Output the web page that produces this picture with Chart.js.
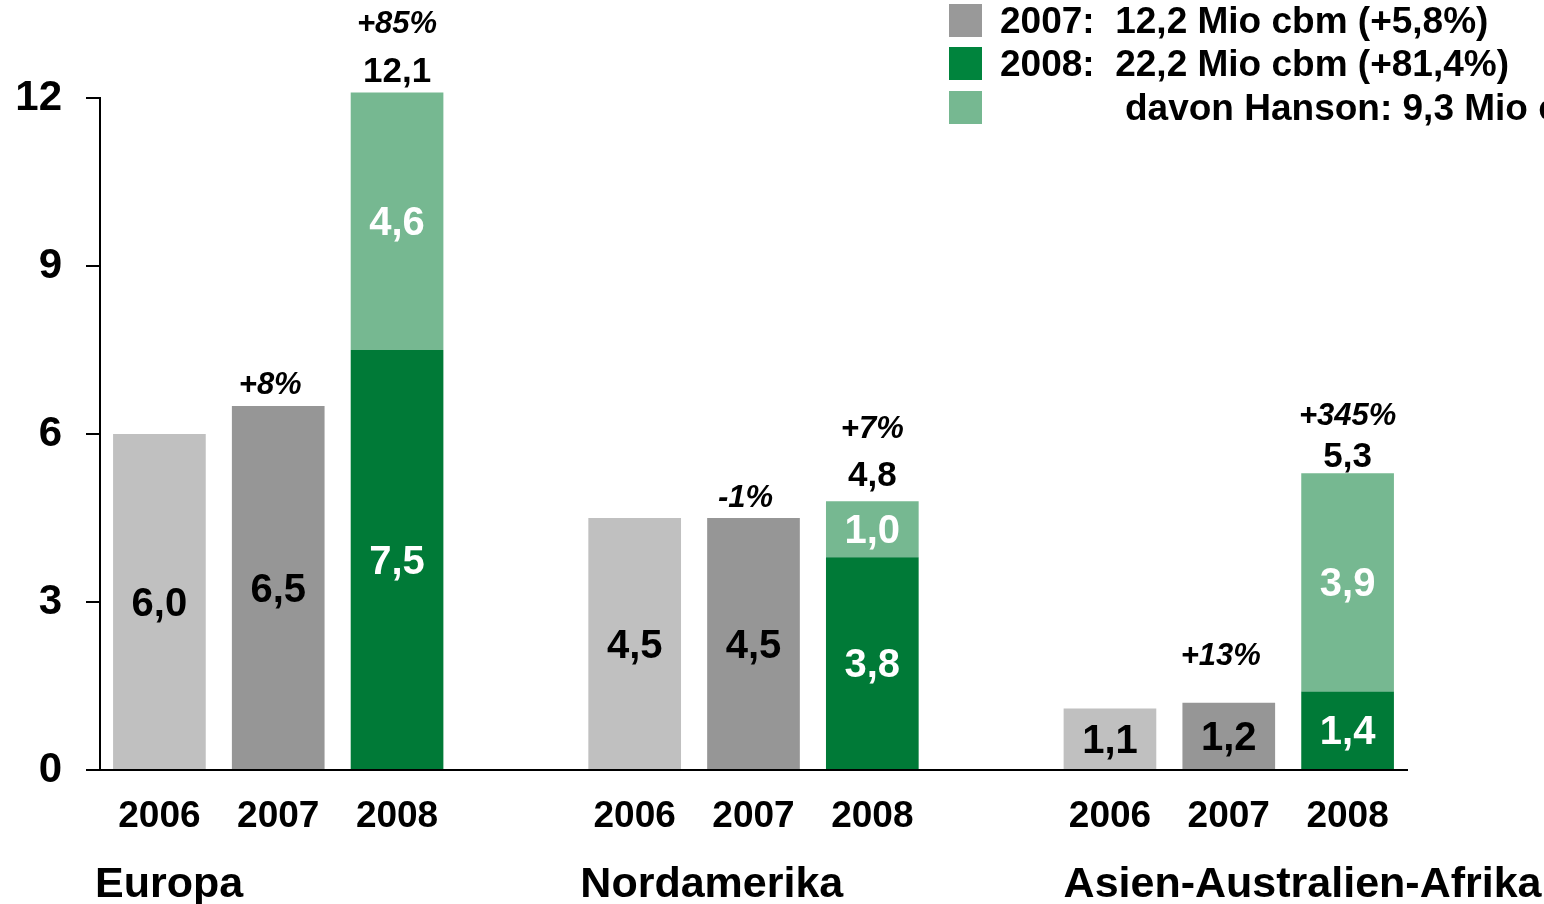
<!DOCTYPE html>
<html>
<head>
<meta charset="utf-8">
<script src="https://cdn.jsdelivr.net/npm/chart.js@4"></script>
<style>
    body { margin: 0; background: #fff; }
    canvas { display: block; }
</style>
</head>
<body>
<canvas id="volumeChart" width="1544" height="904"></canvas>
<script>
// --- Data ---
const years = ['2006', '2007', '2008'];
const regions = ['Europa', 'Nordamerika', 'Asien-Australien-Afrika'];
const europa = [6.0, 6.5, 7.5];
const nordamerika = [4.5, 4.5, 3.8];
const asien = [1.1, 1.2, 1.4];
const hanson2008 = [4.6, 1.0, 3.9];
const growth2007 = ['+8%', '-1%', '+13%'];
const growth2008 = ['+85%', '+7%', '+345%'];
const yTicks = [0, 3, 6, 9, 12];
const legendLabels = ['2007:  12,2 Mio cbm (+5,8%)', '2008:  22,2 Mio cbm (+81,4%)', 'davon Hanson: 9,3 Mio cbm'];

const FONT = '"Liberation Sans", Arial, sans-serif';
const yearColors = ['#c0c0c0', '#969696', '#007a37'];
const hansonColor = '#76b891';
const legendColors = ['#999999', '#00843d', '#76b891'];

// flatten into 11 slots, one empty slot between regions
const labels = [];
const baseValues = [];
const hansonValues = [];
const yearIdx = [];
const regionIdx = [];
[europa, nordamerika, asien].forEach((vals, r) => {
    if (r > 0) {
        labels.push('');
        baseValues.push(null);
        hansonValues.push(null);
        yearIdx.push(-1);
        regionIdx.push(-1);
    }
    vals.forEach((v, y) => {
        labels.push(years[y]);
        baseValues.push(v);
        hansonValues.push(y === 2 ? hanson2008[r] : null);
        yearIdx.push(y);
        regionIdx.push(r);
    });
});

const fmt = v => v.toFixed(1).replace('.', ',');

// --- Labels on and above the bars ---
// gaps above the bar tops, per region (hand placed in the original slide)
const gap2007 = [21, 20, 46];
const gapTotal = [20, 25, 16];
const gap2008 = [68, 72, 57];

const barLabels = {
    id: 'barLabels',
    afterDatasetsDraw(chart) {
        const ctx = chart.ctx;
        const baseMeta = chart.getDatasetMeta(0);
        const topMeta = chart.getDatasetMeta(1);
        ctx.save();
        ctx.textAlign = 'center';
        ctx.textBaseline = 'middle';
        baseMeta.data.forEach((bar, i) => {
            if (baseValues[i] == null) return;
            const y = yearIdx[i];
            const r = regionIdx[i];
            ctx.font = 'bold 40px ' + FONT;
            ctx.fillStyle = y === 2 ? '#fff' : '#000';
            ctx.fillText(fmt(baseValues[i]), bar.x, (bar.y + bar.base) / 2 + 3);

            if (y === 1) {
                ctx.fillStyle = '#000';
                ctx.font = 'italic bold 31px ' + FONT;
                ctx.fillText(growth2007[r], bar.x - 8, bar.y - gap2007[r]);
            }
            if (y === 2) {
                const h = topMeta.data[i];
                ctx.fillStyle = '#fff';
                ctx.font = 'bold 40px ' + FONT;
                ctx.fillText(fmt(hansonValues[i]), h.x, (h.y + h.base) / 2 + 3);

                ctx.fillStyle = '#000';
                ctx.font = 'bold 35px ' + FONT;
                ctx.fillText(fmt(baseValues[i] + hansonValues[i]), h.x, h.y - gapTotal[r]);
                ctx.font = 'italic bold 31px ' + FONT;
                ctx.fillText(growth2008[r], h.x, h.y - gap2008[r]);
            }
        });
        ctx.restore();
    }
};

// --- Region names under the years, and the legend top right ---
const extras = {
    id: 'extras',
    afterDraw(chart) {
        const ctx = chart.ctx;
        const nudge = [-18, -8, 0];
        ctx.save();
        ctx.fillStyle = '#000';
        ctx.textAlign = 'left';
        ctx.textBaseline = 'middle';
        ctx.font = 'bold 43px ' + FONT;
        regions.forEach((name, r) => {
            const first = regionIdx.indexOf(r);
            const bar = chart.getDatasetMeta(0).data[first];
            ctx.fillText(name, bar.x - bar.width / 2 + nudge[r], 885);
        });

        // legend
        const rows = [20.5, 63.5, 107.5];
        ctx.font = 'bold 37px ' + FONT;
        legendLabels.forEach((txt, i) => {
            ctx.fillStyle = legendColors[i];
            ctx.fillRect(949, rows[i] - 16.5, 33, 33);
            ctx.fillStyle = '#000';
            ctx.fillText(txt, i === 2 ? 1125 : 1000, rows[i] + 2);
        });
        ctx.restore();
    }
};

document.addEventListener('DOMContentLoaded', () => {
    const ctx = document.getElementById('volumeChart').getContext('2d');
    new Chart(ctx, {
        type: 'bar',
        data: {
            labels: labels,
            datasets: [{
                label: 'Basis',
                data: baseValues,
                backgroundColor: yearIdx.map(y => yearColors[Math.max(y, 0)]),
                barPercentage: 0.78,
                categoryPercentage: 1,
                clip: false
            }, {
                label: 'Hanson',
                data: hansonValues,
                backgroundColor: hansonColor,
                barPercentage: 0.78,
                categoryPercentage: 1,
                clip: false
            }]
        },
        options: {
            responsive: false,
            animation: false,
            layout: { padding: { top: 98, right: 137, left: 0, bottom: 0 } },
            plugins: {
                legend: { display: false },
                tooltip: { enabled: false }
            },
            scales: {
                x: {
                    stacked: true,
                    grid: { display: false },
                    border: { display: true, color: '#000', width: 2 },
                    ticks: {
                        color: '#000',
                        font: { family: FONT, size: 37, weight: 'bold' },
                        padding: 17,
                        autoSkip: false,
                        maxRotation: 0
                    },
                    afterFit: s => { s.height = 134; }
                },
                y: {
                    stacked: true,
                    min: 0,
                    max: 12,
                    afterBuildTicks: s => { s.ticks = yTicks.map(v => ({ value: v })); },
                    grid: { drawOnChartArea: false, drawTicks: true, tickLength: 14, color: '#000', lineWidth: 2 },
                    border: { display: true, color: '#000', width: 2 },
                    ticks: {
                        color: '#000',
                        font: { family: FONT, size: 42, weight: 'bold' },
                        padding: 24
                    },
                    afterFit: s => { s.width = 100; }
                }
            }
        },
        plugins: [barLabels, extras]
    });
});
</script>
</body>
</html>
